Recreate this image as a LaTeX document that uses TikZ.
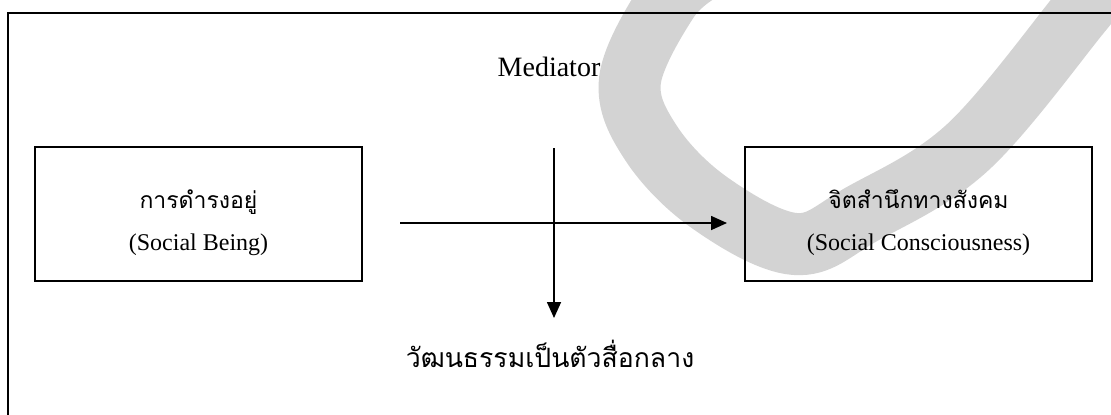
\documentclass[tikz,border=0pt]{standalone}
\usepackage{fontspec}
\setmainfont{Liberation Serif}
\newfontfamily\thai[Script=Thai]{Loma}
\usetikzlibrary{positioning, arrows.meta}
\definecolor{markgray}{RGB}{211,211,211}
\tikzset{
	every node/.append style={
		font=\fontsize{12}{14}\selectfont,
	},
	layer/.append style={
		draw,
		line width=1pt,
		minimum height=67pt,
	},
	flow/.append style={
		-{Triangle[length=8pt,width=7pt]},
		line width=0.8pt,
	},
	thaitext/.append style={
		anchor=base,
		font=\thai\fontsize{11.5}{14}\selectfont,
	},
	engtext/.append style={
		anchor=base,
	},
	bigthai/.append style={
		anchor=base,
		font=\thai\fontsize{13.3}{16}\selectfont,
	}
}
\begin{document}
\begin{tikzpicture}[x=0.5pt, y=-0.5pt]
\clip (0,0) rectangle (1111,414);

% watermark stroke behind everything
\draw[markgray, line width=31pt] plot[smooth, tension=0.6] coordinates {(702,-30) (668,0) (630,80) (651,143) (710,203) (795,244) (862,214) (968,147) (1080,13) (1105,-20)};

\draw[line width=1pt] (8,13) rectangle (1130,440);

\node(being)[layer, minimum width=163.5pt] at (198.5,214) {};
\node(beingth)[thaitext] at ([yshift=3pt]being.center) {การดำรงอยู่};
\node(beingen)[engtext] at ([yshift=-18pt]being.center) {(Social Being)};

\node(conscious)[layer, minimum width=173.5pt] at (918.5,214) {};
\node(consciousth)[thaitext] at ([yshift=3pt]conscious.center) {จิตสำนึกทางสังคม};
\node(consciousen)[engtext] at ([yshift=-18pt]conscious.center) {(Social Consciousness)};

\node(mediator)[engtext, font=\fontsize{14}{16}\selectfont] at (549,76) {Mediator};
\node(culture)[bigthai] at (550,367) {วัฒนธรรมเป็นตัวสื่อกลาง};

\coordinate (from) at (400,223);
\coordinate (to) at (727,223);
\coordinate (top) at (554,148);
\coordinate (bottom) at (554,318);

\draw[flow] (from) -- (to);
\draw[flow] (top) -- (bottom);

\end{tikzpicture}
\end{document}
